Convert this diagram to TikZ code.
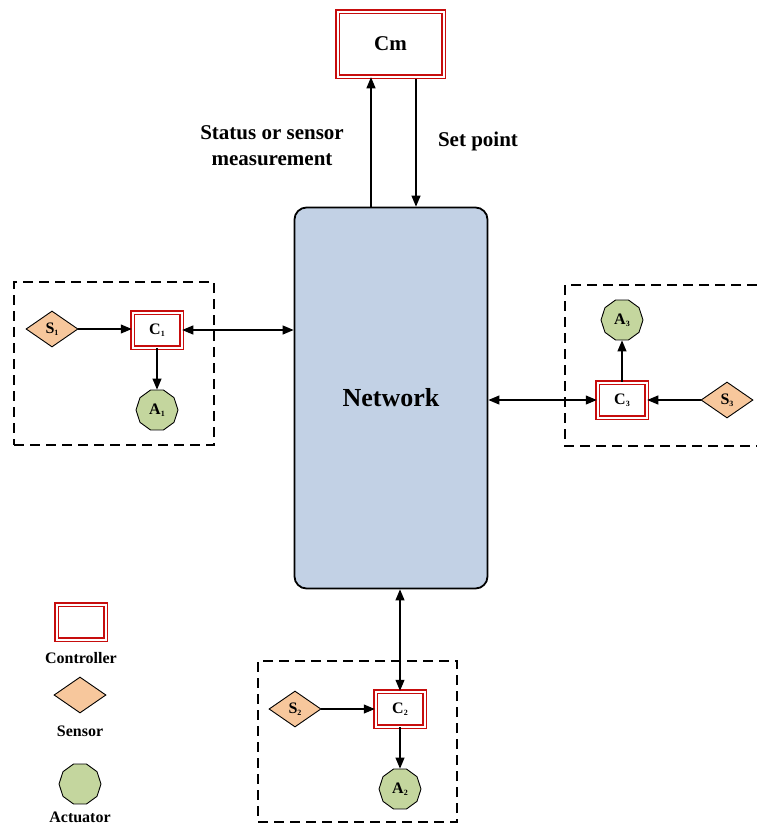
\documentclass[tikz,border=0pt]{standalone}
\usepackage{fontspec}
\setmainfont{Liberation Serif}
\usetikzlibrary{shapes, arrows.meta, calc, positioning}
\definecolor{ctrlred}{rgb}{0.78, 0.05, 0.05}
\definecolor{sensorpeach}{rgb}{0.97, 0.78, 0.61}
\definecolor{actgreen}{rgb}{0.77, 0.84, 0.62}
\definecolor{netblue}{rgb}{0.76, 0.82, 0.90}
\newcommand{\idx}[1]{\raisebox{-0.25ex}{\fontsize{8}{8}\selectfont #1}}

\begin{document}
\begin{tikzpicture}[x=1pt, y=-1pt, font=\bfseries]
        \useasboundingbox (0, 0) rectangle (757, 827);

        \tikzstyle{ctrl} = [draw=ctrlred, double=white, double distance=2pt, line width=1.5pt,
            fill=white, minimum width=49pt, minimum height=35pt, inner sep=0pt, font=\fontsize{16}{16}\selectfont\bfseries];
        \tikzstyle{sens} = [draw, diamond, fill=sensorpeach, line width=0.9pt, aspect=1.45,
            minimum width=52pt, minimum height=36pt, inner sep=0pt, font=\fontsize{16}{16}\selectfont\bfseries];
        \tikzstyle{act} = [draw, regular polygon, regular polygon sides=10, fill=actgreen, line width=0.9pt,
            minimum size=42pt, inner sep=0pt, font=\fontsize{16}{16}\selectfont\bfseries];
        \tikzstyle{grp} = [draw, dash pattern=on 10pt off 6pt, line width=1.4pt];
        \tikzstyle{link} = [draw, line width=1.2pt, -{Triangle[length=11pt, width=9pt]}];
        \tikzstyle{dlink} = [draw, line width=1.2pt, {Triangle[length=11pt, width=9pt]}-{Triangle[length=11pt, width=9pt]}];
        \tikzstyle{lbl} = [font=\fontsize{21}{26}\selectfont\bfseries, align=center];
        \tikzstyle{leg} = [font=\fontsize{16}{16}\selectfont\bfseries];

        % network and central controller
        \node [draw, fill=netblue, line width=1.8pt, rounded corners=12pt, minimum width=193pt,
            minimum height=381pt, font=\fontsize{26}{26}\selectfont\bfseries] (net) at (391, 398) {Network};
        \node [ctrl, minimum width=106pt, minimum height=65pt, font=\fontsize{21}{21}\selectfont\bfseries] (cm) at (390.5, 44) {Cm};

        \coordinate (up) at (371, 207);
        \coordinate (down) at (416, 79);
        \draw [link] (up) -- (up |- cm.south);
        \draw [link] (down) -- (down |- net.north);

        \node [lbl] (status) at (272, 146) {Status or sensor\\measurement};
        \node [lbl] (setpt) at (478, 141) {Set point};

        % loop 1
        \node [grp, minimum width=200pt, minimum height=163pt] (g1) at (114, 363.5) {};
        \node [sens] (s1) at (52, 329) {S\idx{1}};
        \node [ctrl] (c1) at (157, 330) {C\idx{1}};
        \node [act] (a1) at (157, 410) {A\idx{1}};
        \draw [link] (s1.east) -- (s1 -| c1.west);
        \draw [link] (c1) -- (a1);
        \draw [dlink] (c1) -- (c1 -| net.west);

        % loop 3
        \draw [grp] (757, 285) -- (565, 285) -- (565, 446) -- (757, 446);
        \node [ctrl] (c3) at (622, 400) {C\idx{3}};
        \node [act] (a3) at (622, 320) {A\idx{3}};
        \node [sens] (s3) at (727, 400) {S\idx{3}};
        \draw [link] (s3) -- (c3);
        \draw [link] (c3) -- (a3);
        \draw [dlink] (net.east |- c3) -- (c3);

        % loop 2
        \node [grp, minimum width=199pt, minimum height=161pt] (g2) at (357.5, 741.5) {};
        \node [sens] (s2) at (295, 709) {S\idx{2}};
        \node [ctrl] (c2) at (400, 709) {C\idx{2}};
        \node [act] (a2) at (400, 789) {A\idx{2}};
        \draw [link] (s2) -- (c2);
        \draw [link] (c2) -- (a2);
        \draw [dlink] (c2 |- net.south) -- (c2);

        % legend
        \node [ctrl] (kc) at (81, 622) {};
        \node [leg, below=9pt of kc] (kctxt) {Controller};
        \node [sens] (ks) at (80, 695) {};
        \node [leg, below=9pt of ks] (kstxt) {Sensor};
        \node [act] (ka) at (80, 784) {};
        \node [leg, below=4pt of ka] (katxt) {Actuator};
    \end{tikzpicture}
\end{document}
